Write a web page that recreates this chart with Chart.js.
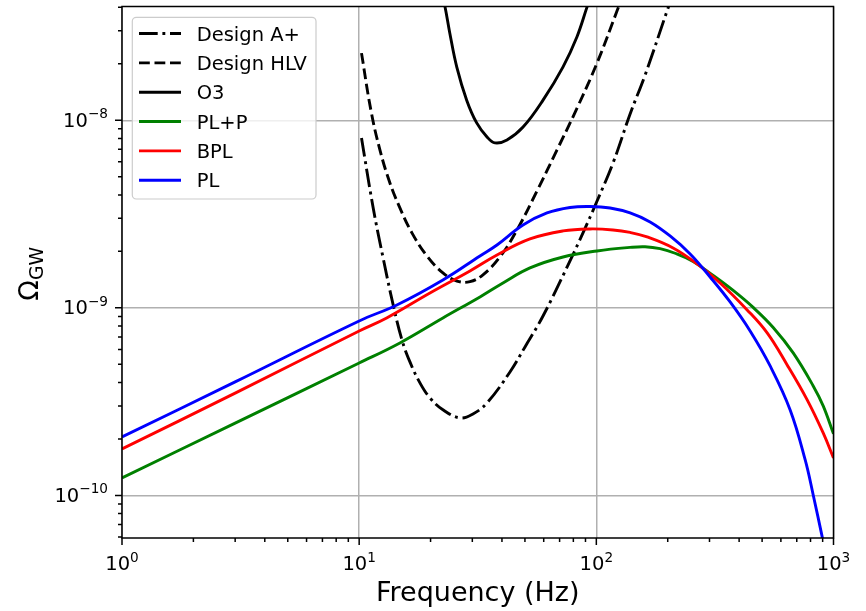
<!DOCTYPE html>
<html>
<head>
<meta charset="utf-8">
<script src="https://cdn.jsdelivr.net/npm/chart.js@4.4.1/dist/chart.umd.min.js"></script>
<style>
  html, body { margin: 0; padding: 0; background: #fff; }
  #wrap { width: 866px; height: 611px; }
</style>
</head>
<body>
<div id="wrap"><canvas id="chart" width="866" height="611"></canvas></div>
<script>
const FONT = "'DejaVu Sans', sans-serif";
const TICK_PX = 19.5;
const SUP_PX = 13.65;
const LABEL_PX = 27;

// Design A+ (dash-dot)
const aplusFreq = [10.23, 11.42, 12.59, 13.88, 15.15, 16.37, 18.04, 19.88, 22.55, 26.6, 30.18, 34.57, 43.24, 50.03, 59.59, 75.95, 87.86, 100.7, 117.6, 138.8, 160.5, 200.7, 236.7];
const aplusOmega = [8.04e-9, 3.49e-9, 1.87e-9, 1.05e-9, 6.75e-10, 5.15e-10, 3.98e-10, 3.31e-10, 2.86e-10, 2.59e-10, 2.72e-10, 3.11e-10, 4.55e-10, 6.19e-10, 9.05e-10, 1.69e-9, 2.51e-9, 3.71e-9, 5.92e-9, 1.08e-8, 1.74e-8, 3.97e-8, 7.2e-8];

// Design HLV (dashed)
const hlvFreq = [10.23, 11.2, 12.23, 13.48, 14.85, 16.69, 19.31, 22.55, 25.84, 29.32, 33.26, 39.25, 46.28, 56.22, 68.28, 82.91, 100.7, 122.3, 138.8];
const hlvOmega = [2.28e-8, 1.135e-8, 6.95e-9, 4.63e-9, 3.41e-9, 2.51e-9, 1.89e-9, 1.535e-9, 1.39e-9, 1.38e-9, 1.50e-9, 1.87e-9, 2.60e-9, 4.20e-9, 6.95e-9, 1.16e-8, 2.02e-8, 3.83e-8, 5.88e-8];

// O3 (solid black)
const o3Freq = [22.1, 23.0, 24.1, 25.8, 28.4, 31.3, 34.6, 37.4, 42.0, 49.1, 59.6, 72.3, 82.8, 91.4, 100];
const o3Omega = [5.0e-8, 4.04e-8, 2.92e-8, 1.92e-8, 1.28e-8, 9.68e-9, 8.15e-9, 7.57e-9, 7.85e-9, 9.2e-9, 1.28e-8, 1.92e-8, 2.78e-8, 4.02e-8, 5.6e-8];

// PL+P
const plpFreq = [1, 3, 10, 14.85, 22.55, 32.31, 40.39, 52.5, 72.4, 100.7, 138.8, 160.5, 185.7, 214.8, 255.9, 310.9, 377.5, 458.4, 556.7, 676.1, 821.2, 904.7, 1000];
const plpOmega = [1.24e-10, 2.43e-10, 5.08e-10, 6.5e-10, 8.83e-10, 1.143e-9, 1.357e-9, 1.632e-9, 1.867e-9, 2.01e-9, 2.10e-9, 2.117e-9, 2.067e-9, 1.954e-9, 1.767e-9, 1.488e-9, 1.238e-9, 1.005e-9, 7.86e-10, 5.75e-10, 3.835e-10, 3.0e-10, 2.13e-10];

// BPL
const bplFreq = [1, 3, 10, 13.06, 19.88, 29.32, 38.11, 52.5, 72.4, 94.1, 117.6, 138.8, 163.7, 210.7, 266.0, 332.6, 432.4, 525.2, 637.8, 774.5, 904.7, 1000];
const bplOmega = [1.77e-10, 3.51e-10, 7.53e-10, 8.83e-10, 1.2e-9, 1.573e-9, 1.914e-9, 2.33e-9, 2.57e-9, 2.634e-9, 2.602e-9, 2.523e-9, 2.388e-9, 2.086e-9, 1.714e-9, 1.357e-9, 9.75e-10, 7.35e-10, 4.96e-10, 3.23e-10, 2.153e-10, 1.585e-10];

// PL
const plFreq = [1, 3, 10, 14.42, 22.55, 32.31, 38.11, 49.06, 61.94, 77.45, 94.06, 114.3, 138.8, 168.5, 204.6, 248.6, 301.8, 366.5, 445.1, 540.6, 656.5, 759.8, 821.2, 896.1, 1000];
const plOmega = [2.05e-10, 4.03e-10, 8.51e-10, 1.036e-9, 1.408e-9, 1.891e-9, 2.164e-9, 2.766e-9, 3.206e-9, 3.429e-9, 3.471e-9, 3.407e-9, 3.206e-9, 2.87e-9, 2.416e-9, 1.938e-9, 1.461e-9, 1.075e-9, 7.53e-10, 4.90e-10, 2.856e-10, 1.546e-10, 1.006e-10, 6.01e-11, 3.13e-11];

const xTicks = [1, 10, 100, 1000];
const yTicks = [1e-10, 1e-9, 1e-8];
const yMin = 5.93e-11, yMax = 4.04e-8;

const LW = 2.9;
const DASH = [10.8, 4.7];
const DASHDOT = [18.7, 4.7, 2.9, 4.7];

const pts = (fs, vs) => fs.map((f, i) => ({ x: f, y: vs[i] }));
const line = (label, fs, vs, color, dash) => ({
  label, data: pts(fs, vs), borderColor: color, borderWidth: LW, borderDash: dash,
  borderCapStyle: 'butt', pointRadius: 0, fill: false, tension: 0.4
});

// dataset 0 is drawn on top, so list in reverse plotting order
const datasets = [
  line('PL', plFreq, plOmega, '#0000ff', []),
  line('BPL', bplFreq, bplOmega, '#ff0000', []),
  line('PL+P', plpFreq, plpOmega, '#008000', []),
  line('O3', o3Freq, o3Omega, '#000000', []),
  line('Design HLV', hlvFreq, hlvOmega, '#000000', DASH),
  line('Design A+', aplusFreq, aplusOmega, '#000000', DASHDOT),
];

function drawPow(ctx, exp, x, baseline, align) {
  const sup = exp < 0 ? '\u2212' + (-exp) : String(exp);
  ctx.font = `${TICK_PX}px ${FONT}`;
  const wb = ctx.measureText('10').width;
  ctx.font = `${SUP_PX}px ${FONT}`;
  const ws = ctx.measureText(sup).width;
  const x0 = align === 'right' ? x - wb - ws : x - (wb + ws) / 2;
  ctx.textAlign = 'left';
  ctx.textBaseline = 'alphabetic';
  ctx.font = `${TICK_PX}px ${FONT}`;
  ctx.fillText('10', x0, baseline);
  ctx.font = `${SUP_PX}px ${FONT}`;
  ctx.fillText(sup, x0 + wb, baseline - 8.5);
}

const mplAxes = {
  id: 'mplAxes',
  afterDatasetsDraw(chart) {
    const { ctx, chartArea: a, scales: { x, y } } = chart;
    ctx.save();
    ctx.strokeStyle = '#000';
    ctx.fillStyle = '#000';
    ctx.lineWidth = 1.5;

    // tick marks (outward)
    ctx.beginPath();
    for (let k = 0; k <= 3; k++) {
      for (let m = 1; m <= 9; m++) {
        const v = m * Math.pow(10, k);
        if (v > 1000) break;
        const px = x.getPixelForValue(v);
        ctx.moveTo(px, a.bottom);
        ctx.lineTo(px, a.bottom + (m === 1 ? 7 : 4));
      }
    }
    for (let k = -11; k <= -8; k++) {
      for (let m = 1; m <= 9; m++) {
        const v = m * Math.pow(10, k);
        if (v < yMin || v > yMax) continue;
        const py = y.getPixelForValue(v);
        ctx.moveTo(a.left, py);
        ctx.lineTo(a.left - (m === 1 ? 7 : 4), py);
      }
    }
    ctx.stroke();

    // frame
    ctx.strokeRect(a.left, a.top, a.right - a.left, a.bottom - a.top);

    // tick labels
    xTicks.forEach(v => drawPow(ctx, Math.round(Math.log10(v)), x.getPixelForValue(v), 570, 'center'));
    yTicks.forEach(v => drawPow(ctx, Math.round(Math.log10(v)), a.left - 14, y.getPixelForValue(v) + 6.5, 'right'));

    // axis titles
    ctx.font = `${LABEL_PX}px ${FONT}`;
    ctx.textAlign = 'center';
    ctx.fillText('Frequency (Hz)', (a.left + a.right) / 2, 601);

    ctx.translate(38.3, (a.top + a.bottom) / 2 + 1.5);
    ctx.rotate(-Math.PI / 2);
    ctx.textAlign = 'left';
    const wO = ctx.measureText('\u03A9').width;
    ctx.font = `${LABEL_PX * 0.7}px ${FONT}`;
    const wG = ctx.measureText('GW').width;
    const s = -(wO + wG) / 2;
    ctx.font = `${LABEL_PX}px ${FONT}`;
    ctx.fillText('\u03A9', s, 0);
    ctx.font = `${LABEL_PX * 0.7}px ${FONT}`;
    ctx.fillText('GW', s + wO, 4.4);
    ctx.restore();
  },
  afterDraw(chart) {
    const { ctx } = chart;
    ctx.save();
    ctx.beginPath();
    ctx.roundRect(132.3, 17.3, 316 - 132.3, 199 - 17.3, 4);
    ctx.fillStyle = 'rgba(255,255,255,0.8)';
    ctx.fill();
    ctx.strokeStyle = '#cccccc';
    ctx.lineWidth = 1.2;
    ctx.stroke();

    const items = chart.data.datasets.slice().reverse();
    items.forEach((ds, i) => {
      const cy = 33.5 + i * 29.35;
      ctx.beginPath();
      ctx.setLineDash(ds.borderDash);
      ctx.lineCap = 'butt';
      ctx.strokeStyle = ds.borderColor;
      ctx.lineWidth = LW;
      ctx.moveTo(139, cy);
      ctx.lineTo(181, cy);
      ctx.stroke();
      ctx.setLineDash([]);
      ctx.fillStyle = '#000';
      ctx.font = `${TICK_PX}px ${FONT}`;
      ctx.textAlign = 'left';
      ctx.textBaseline = 'alphabetic';
      ctx.fillText(ds.label, 196.7, cy + 7.1);
    });
    ctx.restore();
  }
};

Chart.defaults.font.family = FONT;

new Chart(document.getElementById('chart'), {
  type: 'line',
  data: { datasets },
  options: {
    responsive: false,
    animation: false,
    events: [],
    layout: { padding: { left: 0, top: 6.5, right: 32.5, bottom: 0 } },
    plugins: { legend: { display: false }, tooltip: { enabled: false } },
    scales: {
      x: {
        type: 'logarithmic',
        min: 1,
        max: 1000,
        afterBuildTicks: s => { s.ticks = xTicks.map(v => ({ value: v })); },
        afterFit: s => { s.height = 73; },
        ticks: { display: false },
        border: { display: false },
        grid: { color: '#b0b0b0', lineWidth: 1.5, drawTicks: false }
      },
      y: {
        type: 'logarithmic',
        min: yMin,
        max: yMax,
        afterBuildTicks: s => { s.ticks = yTicks.map(v => ({ value: v })); },
        afterFit: s => { s.width = 122; },
        ticks: { display: false },
        border: { display: false },
        grid: { color: '#b0b0b0', lineWidth: 1.5, drawTicks: false }
      }
    }
  },
  plugins: [mplAxes]
});
</script>
</body>
</html>
